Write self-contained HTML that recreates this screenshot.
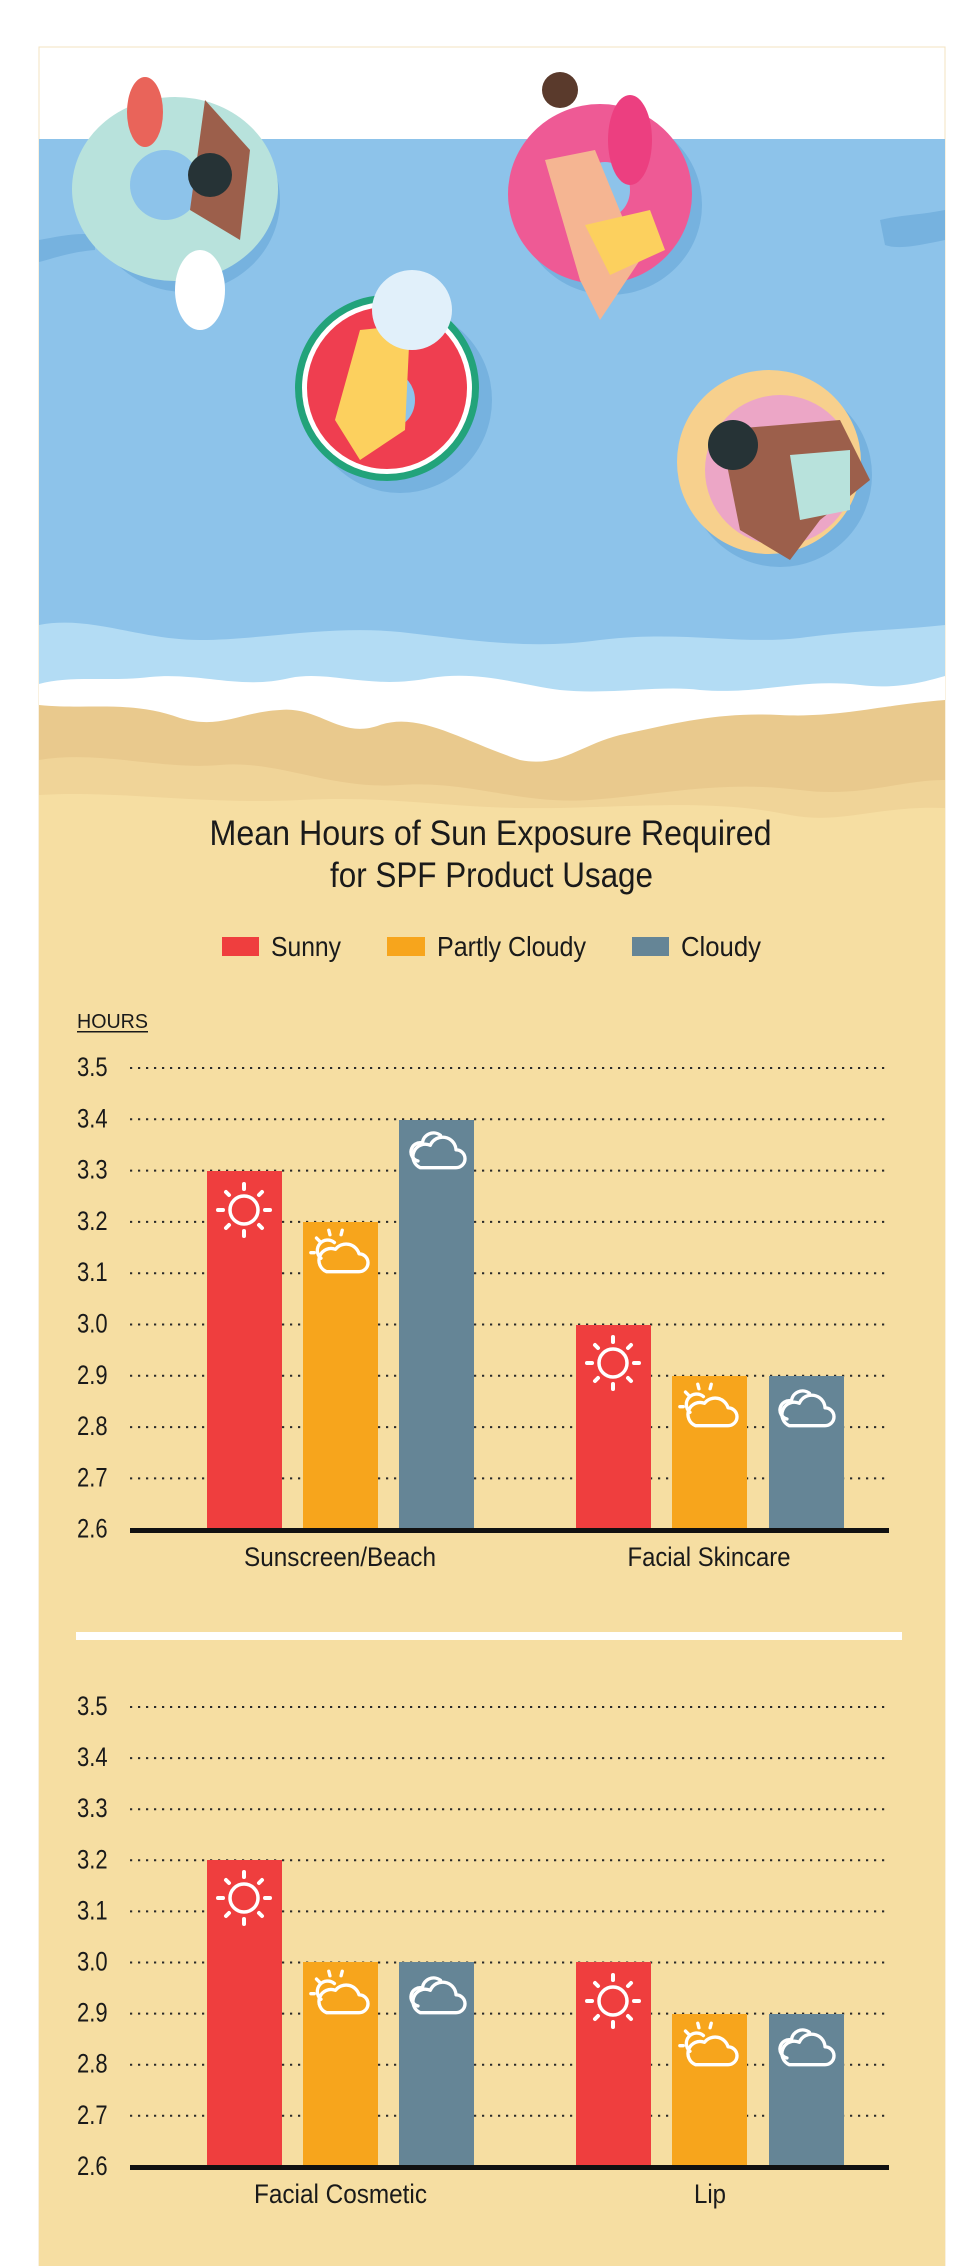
<!DOCTYPE html>
<html><head><meta charset="utf-8"><style>
html,body{margin:0;padding:0;background:#fff;}
svg{display:block;}
text{font-family:"Liberation Sans Narrow","Liberation Sans",sans-serif;fill:#1a1a1a;}
</style></head><body>
<svg width="979" height="2266" viewBox="0 0 979 2266" xmlns="http://www.w3.org/2000/svg">
<defs>
<g id="sun" fill="none" stroke="#fff" stroke-linecap="round">
 <circle r="14" stroke-width="3.5"/>
 <g stroke-width="4">
  <line x1="0" y1="-21" x2="0" y2="-26"/><line x1="0" y1="21" x2="0" y2="26"/>
  <line x1="-21" y1="0" x2="-26" y2="0"/><line x1="21" y1="0" x2="26" y2="0"/>
  <line x1="15" y1="-15" x2="18" y2="-18"/><line x1="-15" y1="-15" x2="-18" y2="-18"/>
  <line x1="15" y1="15" x2="18" y2="18"/><line x1="-15" y1="15" x2="-18" y2="18"/>
 </g>
</g>
<g id="cloud0" fill="none" stroke="#fff" stroke-width="3" stroke-linejoin="round" stroke-linecap="round">
 <path d="M-15 14 H17 A8 8 0 0 0 17 -2 A12 12 0 0 0 -6 -6 A10 10 0 0 0 -15 14 Z"/>
 <path d="M-17 8 A8 8 0 0 1 -13 -8 A10 10 0 0 1 3 -15"/>
</g>
<g id="cloud"><use href="#cloud0" transform="scale(1.12)"/></g>
<g id="pcloud0" fill="none" stroke="#fff" stroke-width="3" stroke-linejoin="round" stroke-linecap="round">
 <path d="M-12 14 H17 A8 8 0 0 0 17 -2 A12 12 0 0 0 -4 -6 A10 10 0 0 0 -12 14 Z"/>
 <path d="M-17 2 A9 9 0 0 1 -5 -12"/>
 <line x1="-9" y1="-19" x2="-10" y2="-23"/><line x1="1" y1="-19" x2="2" y2="-23"/>
 <line x1="-18" y1="-13" x2="-21" y2="-16"/><line x1="-23" y1="-3" x2="-26" y2="-3"/>
</g>
<g id="pcloud"><use href="#pcloud0" transform="scale(1.12)"/></g>
</defs>

<rect x="39" y="47" width="906" height="2219" fill="#fff" stroke="#f3e3c0" stroke-width="1"/>
<rect x="39" y="139" width="906" height="560" fill="#8dc3ea"/>
<path d="M39 240 C60 236 80 232 95 235 L95 250 C70 252 55 258 39 262Z" fill="#76b2df"/>
<path d="M880 220 C900 215 920 215 945 210 L945 240 C920 245 900 250 885 245Z" fill="#76b2df"/>
<path d="M39 625 C90 615 140 640 200 640 C260 640 330 625 400 632 C470 640 530 650 600 640 C680 630 740 645 800 638 C860 630 900 630 945 625 L945 720 L39 720Z" fill="#b3dcf4"/>
<path d="M39 684 C70 675 110 682 150 677 C200 672 240 690 290 678 C330 670 370 690 430 678 C480 670 520 685 560 690 C610 695 660 685 700 690 C760 695 800 678 860 685 C900 690 930 680 945 676 L945 760 L39 760Z" fill="#fff"/>
<path d="M39 705 C90 710 130 700 180 718 C220 730 240 712 280 710 C320 706 340 740 380 725 C420 712 460 740 520 760 C560 768 580 745 620 735 C680 722 720 712 780 715 C840 718 880 705 945 700 L945 2266 L39 2266Z" fill="#e9c98d"/>
<path d="M39 760 C100 750 160 770 220 765 C280 760 330 790 400 785 C470 780 520 805 590 800 C660 795 720 780 800 790 C860 798 900 780 945 780 L945 2266 L39 2266Z" fill="#f0d498"/>
<path d="M39 795 C120 790 200 805 300 800 C400 795 450 810 560 808 C650 806 720 800 790 815 C840 825 880 805 945 808 L945 2266 L39 2266Z" fill="#f6dea2"/>

<ellipse cx="185" cy="200" rx="95" ry="92" fill="#76b2df"/>
<ellipse cx="175" cy="189" rx="103" ry="92" fill="#b8e2dc"/>
<ellipse cx="165" cy="185" rx="35" ry="35" fill="#8dc3ea"/>
<ellipse cx="145" cy="112" rx="18" ry="35" fill="#e9645a"/>
<ellipse cx="200" cy="290" rx="25" ry="40" fill="#fff"/>
<path d="M205 100 L250 150 L240 240 L190 210Z" fill="#9c5f4b"/>
<circle cx="210" cy="175" r="22" fill="#263336"/>
<ellipse cx="610" cy="205" rx="92" ry="90" fill="#76b2df"/>
<ellipse cx="600" cy="194" rx="92" ry="90" fill="#ee5a95"/>
<ellipse cx="605" cy="190" rx="25" ry="28" fill="#8dc3ea"/>
<ellipse cx="630" cy="140" rx="22" ry="45" fill="#ec3f80"/>
<path d="M545 160 L595 150 L640 260 L600 320 L580 280Z" fill="#f5b592"/>
<path d="M585 225 L650 210 L665 250 L610 275Z" fill="#fcd05e"/>
<circle cx="560" cy="90" r="18" fill="#5a3a2c"/>
<ellipse cx="400" cy="400" rx="92" ry="93" fill="#76b2df"/>
<ellipse cx="387" cy="388" rx="92" ry="93" fill="#22a37a"/>
<ellipse cx="387" cy="388" rx="85" ry="86" fill="#fff"/>
<ellipse cx="387" cy="388" rx="80" ry="81" fill="#ef3e50"/>
<ellipse cx="390" cy="400" rx="25" ry="28" fill="#8dc3ea"/>
<path d="M360 330 L410 325 L405 430 L360 460 L335 420Z" fill="#fcd05e"/>
<ellipse cx="412" cy="310" rx="40" ry="40" fill="#e1f0fa"/>
<ellipse cx="780" cy="475" rx="92" ry="92" fill="#76b2df"/>
<ellipse cx="769" cy="462" rx="92" ry="92" fill="#f7d08d"/>
<ellipse cx="780" cy="470" rx="75" ry="75" fill="#eca6c6"/>
<path d="M720 430 L840 420 L870 480 L820 520 L790 560 L740 530Z" fill="#9c5f4b"/>
<path d="M790 455 L850 450 L850 510 L800 520Z" fill="#b8e2dc"/>
<circle cx="733" cy="445" r="25" fill="#263336"/>

<g text-anchor="middle">
<text transform="translate(490.5,845) scale(1,1.2)" font-size="29" textLength="562" lengthAdjust="spacingAndGlyphs">Mean Hours of Sun Exposure Required</text>
<text transform="translate(491.5,887) scale(1,1.2)" font-size="29" textLength="323" lengthAdjust="spacingAndGlyphs">for SPF Product Usage</text>
</g>
<rect x="222" y="937" width="37" height="19" fill="#ef3e3e"/>
<rect x="387" y="937" width="38" height="19" fill="#f7a51c"/>
<rect x="632" y="937" width="37" height="19" fill="#658596"/>
<text transform="translate(271,956) scale(1,1.2)" font-size="23" textLength="70" lengthAdjust="spacingAndGlyphs">Sunny</text>
<text transform="translate(437,956) scale(1,1.2)" font-size="23" textLength="149" lengthAdjust="spacingAndGlyphs">Partly Cloudy</text>
<text transform="translate(681,956) scale(1,1.2)" font-size="23" textLength="80" lengthAdjust="spacingAndGlyphs">Cloudy</text>
<text transform="translate(77,1028) scale(1,1.2)" font-size="17" textLength="71" lengthAdjust="spacingAndGlyphs">HOURS</text>
<rect x="77" y="1031" width="71" height="1.5" fill="#1a1a1a"/>

<g stroke="#2a2a2a" stroke-width="2" stroke-dasharray="2.2 5.8">
<line x1="130" x2="889" y1="1068" y2="1068"/><line x1="130" x2="889" y1="1119.3" y2="1119.3"/>
<line x1="130" x2="889" y1="1170.6" y2="1170.6"/><line x1="130" x2="889" y1="1221.9" y2="1221.9"/>
<line x1="130" x2="889" y1="1273.2" y2="1273.2"/><line x1="130" x2="889" y1="1324.5" y2="1324.5"/>
<line x1="130" x2="889" y1="1375.8" y2="1375.8"/><line x1="130" x2="889" y1="1427.1" y2="1427.1"/>
<line x1="130" x2="889" y1="1478.4" y2="1478.4"/>
</g>
<g font-size="22">
<text transform="translate(77,1076) scale(1,1.2)">3.5</text>
<text transform="translate(77,1127.3) scale(1,1.2)">3.4</text>
<text transform="translate(77,1178.6) scale(1,1.2)">3.3</text>
<text transform="translate(77,1229.9) scale(1,1.2)">3.2</text>
<text transform="translate(77,1281.2) scale(1,1.2)">3.1</text>
<text transform="translate(77,1332.5) scale(1,1.2)">3.0</text>
<text transform="translate(77,1383.8) scale(1,1.2)">2.9</text>
<text transform="translate(77,1435.1) scale(1,1.2)">2.8</text>
<text transform="translate(77,1486.4) scale(1,1.2)">2.7</text>
<text transform="translate(77,1537.7) scale(1,1.2)">2.6</text>
</g>
<rect x="207" y="1171" width="75" height="359" fill="#ef3e3e"/>
<rect x="303" y="1222" width="75" height="308" fill="#f7a51c"/>
<rect x="399" y="1120" width="75" height="410" fill="#658596"/>
<rect x="576" y="1325" width="75" height="205" fill="#ef3e3e"/>
<rect x="672" y="1376" width="75" height="154" fill="#f7a51c"/>
<rect x="769" y="1376" width="75" height="154" fill="#658596"/>
<rect x="130" y="1528" width="759" height="5" fill="#111"/>
<use href="#sun" x="244" y="1210"/>
<use href="#pcloud" x="340" y="1256"/>
<use href="#cloud" x="437" y="1152"/>
<use href="#sun" x="613" y="1363"/>
<use href="#pcloud" x="709" y="1410"/>
<use href="#cloud" x="806" y="1410"/>
<g text-anchor="middle" font-size="22">
<text transform="translate(340,1566) scale(1,1.2)" textLength="192" lengthAdjust="spacingAndGlyphs">Sunscreen/Beach</text>
<text transform="translate(709,1566) scale(1,1.2)" textLength="163" lengthAdjust="spacingAndGlyphs">Facial Skincare</text>
</g>

<rect x="76" y="1632" width="826" height="8" fill="#fff"/>

<g stroke="#2a2a2a" stroke-width="2" stroke-dasharray="2.2 5.8">
<line x1="130" x2="889" y1="1707" y2="1707"/><line x1="130" x2="889" y1="1758.1" y2="1758.1"/>
<line x1="130" x2="889" y1="1809.2" y2="1809.2"/><line x1="130" x2="889" y1="1860.3" y2="1860.3"/>
<line x1="130" x2="889" y1="1911.4" y2="1911.4"/><line x1="130" x2="889" y1="1962.5" y2="1962.5"/>
<line x1="130" x2="889" y1="2013.6" y2="2013.6"/><line x1="130" x2="889" y1="2064.7" y2="2064.7"/>
<line x1="130" x2="889" y1="2115.8" y2="2115.8"/>
</g>
<g font-size="22">
<text transform="translate(77,1715) scale(1,1.2)">3.5</text>
<text transform="translate(77,1766.1) scale(1,1.2)">3.4</text>
<text transform="translate(77,1817.2) scale(1,1.2)">3.3</text>
<text transform="translate(77,1868.3) scale(1,1.2)">3.2</text>
<text transform="translate(77,1919.4) scale(1,1.2)">3.1</text>
<text transform="translate(77,1970.5) scale(1,1.2)">3.0</text>
<text transform="translate(77,2021.6) scale(1,1.2)">2.9</text>
<text transform="translate(77,2072.7) scale(1,1.2)">2.8</text>
<text transform="translate(77,2123.8) scale(1,1.2)">2.7</text>
<text transform="translate(77,2174.9) scale(1,1.2)">2.6</text>
</g>
<rect x="207" y="1860" width="75" height="307" fill="#ef3e3e"/>
<rect x="303" y="1962" width="75" height="205" fill="#f7a51c"/>
<rect x="399" y="1962" width="75" height="205" fill="#658596"/>
<rect x="576" y="1962" width="75" height="205" fill="#ef3e3e"/>
<rect x="672" y="2014" width="75" height="153" fill="#f7a51c"/>
<rect x="769" y="2014" width="75" height="153" fill="#658596"/>
<rect x="130" y="2165" width="759" height="5" fill="#111"/>
<use href="#sun" x="244" y="1898"/>
<use href="#pcloud" x="340" y="1997"/>
<use href="#cloud" x="437" y="1997"/>
<use href="#sun" x="613" y="2001"/>
<use href="#pcloud" x="709" y="2049"/>
<use href="#cloud" x="806" y="2049"/>
<g text-anchor="middle" font-size="22">
<text transform="translate(340.5,2203) scale(1,1.2)" textLength="173" lengthAdjust="spacingAndGlyphs">Facial Cosmetic</text>
<text transform="translate(710,2203) scale(1,1.2)" textLength="32" lengthAdjust="spacingAndGlyphs">Lip</text>
</g>
</svg>
</body></html>
